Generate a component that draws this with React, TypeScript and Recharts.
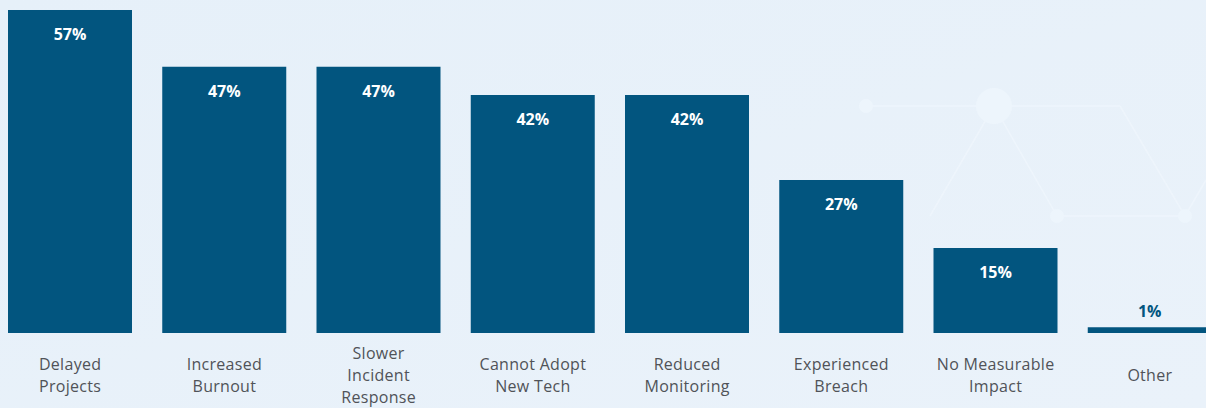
import { Bar, BarChart, LabelList, XAxis, YAxis } from 'recharts'

const categories = [
    'Delayed\nProjects',
    'Increased\nBurnout',
    'Slower\nIncident\nResponse',
    'Cannot Adopt\nNew Tech',
    'Reduced\nMonitoring',
    'Experienced\nBreach',
    'No Measurable\nImpact',
    'Other',
]

const percentages = [57, 47, 47, 42, 42, 27, 15, 1]

const data = categories.map((name, i) => ({ name, value: percentages[i] }))

const BAR_COLOR = '#02557f'
const FONT = '"Open Sans", "Noto Sans", sans-serif'

const CategoryTick = ({ x, y, payload }: any) => {
    const lines: string[] = String(payload.value).split('\n')
    const center = y + 34
    return (
        <g>
            {lines.map((line, i) => (
                <text
                    key={i}
                    x={x}
                    y={center - ((lines.length - 1) * 22) / 2 + i * 22}
                    textAnchor="middle"
                    dominantBaseline="central"
                    fill="#505358"
                    fontSize={16}
                    fontFamily={FONT}
                    letterSpacing={0.3}
                >
                    {line}
                </text>
            ))}
        </g>
    )
}

const ValueLabel = ({ x, y, width, value }: any) => {
    const inside = value >= 5
    return (
        <text
            x={x + width / 2}
            y={inside ? y + 24 : y - 16}
            textAnchor="middle"
            dominantBaseline="central"
            fill={inside ? '#ffffff' : BAR_COLOR}
            fontSize={16}
            fontWeight={700}
            fontFamily={FONT}
        >
            {value}%
        </text>
    )
}

const Backdrop = () => (
    <svg width={1206} height={408} style={{ position: 'absolute', left: 0, top: 0 }}>
        <defs>
            <linearGradient id="bg" x1="0" y1="0" x2="1" y2="1">
                <stop offset="0%" stopColor="#e6f0f9" />
                <stop offset="100%" stopColor="#eaf2fa" />
            </linearGradient>
        </defs>
        <rect width={1206} height={408} fill="url(#bg)" />
        <g stroke="#eef5fc" strokeWidth={1.5} fill="#edf5fc">
            <line x1={866} y1={106} x2={1120} y2={106} />
            <line x1={994} y1={106} x2={1057} y2={216} />
            <line x1={994} y1={106} x2={930} y2={216} />
            <line x1={1057} y1={216} x2={1185} y2={216} />
            <line x1={1120} y1={106} x2={1185} y2={216} />
            <line x1={1185} y1={216} x2={1206} y2={180} />
            <circle cx={994} cy={106} r={18} stroke="none" />
            <circle cx={866} cy={106} r={7} stroke="none" />
            <circle cx={1057} cy={216} r={7} stroke="none" />
            <circle cx={1185} cy={216} r={7} stroke="none" />
        </g>
    </svg>
)

export default function App() {
    return (
        <div style={{ position: 'fixed', left: 0, top: 0, width: 1206, height: 408, overflow: 'hidden' }}>
            <Backdrop />
            <div style={{ position: 'absolute', left: -7, top: 0 }}>
                <BarChart
                    width={1234}
                    height={408}
                    data={data}
                    margin={{ top: 10, right: 0, bottom: 0, left: 0 }}
                    barCategoryGap={15}
                >
                    <XAxis
                        dataKey="name"
                        axisLine={false}
                        tickLine={false}
                        interval={0}
                        height={75}
                        tick={<CategoryTick />}
                    />
                    <YAxis hide domain={[0, 57]} />
                    <Bar dataKey="value" fill={BAR_COLOR} barSize={124} isAnimationActive={false}>
                        <LabelList dataKey="value" content={<ValueLabel />} />
                    </Bar>
                </BarChart>
            </div>
        </div>
    )
}
